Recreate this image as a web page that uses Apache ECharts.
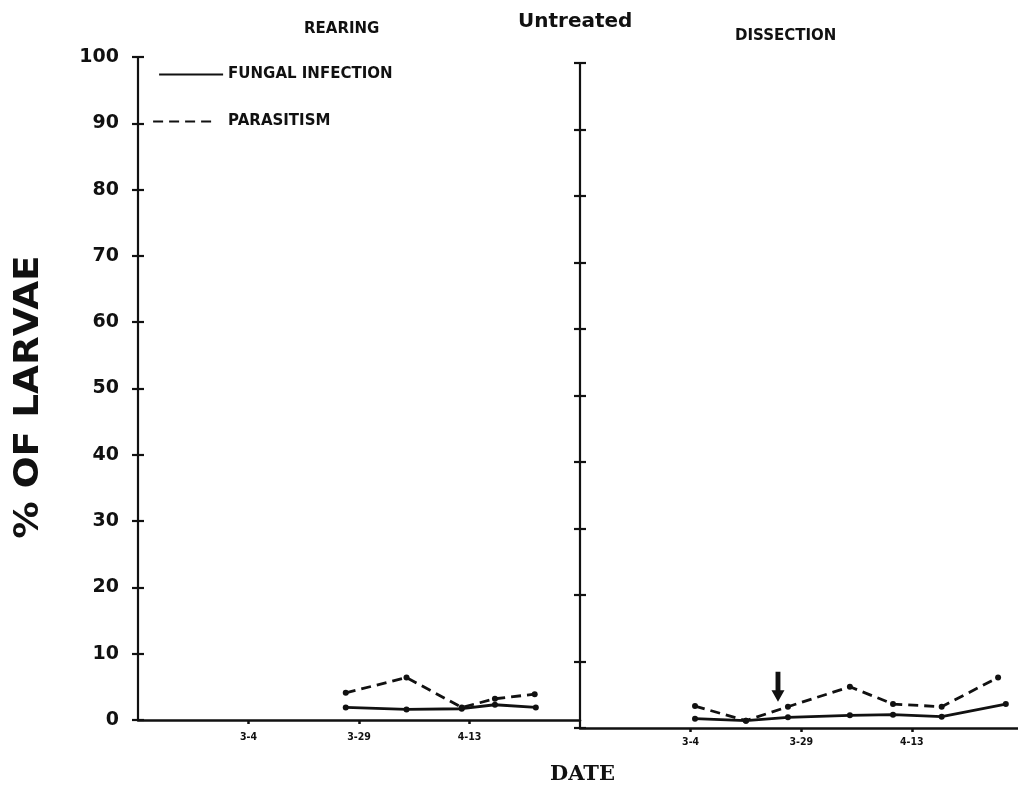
<!DOCTYPE html>
<html>
<head>
<meta charset="utf-8">
<title>Untreated - % of larvae</title>
<script src="https://cdn.jsdelivr.net/npm/echarts@6/dist/echarts.min.js"></script>
<style>
  html, body { margin: 0; padding: 0; background: #ffffff; }
  #chart { width: 1018px; height: 790px; }
</style>
</head>
<body>
<div id="chart"></div>
<script>
// Date axis: sampling positions are given in tick units (0 = 3-4, 1 = 3-29, 2 = 4-13)
const dateTicks = ['3-4', '3-29', '4-13'];
const dateTickPositions = [0, 1, 2];

// Rearing panel
const rearingFungalX = [0.88, 1.43, 1.93, 2.23, 2.60];
const rearingFungal = [1.9, 1.6, 1.7, 2.3, 1.9];
const rearingParasitismX = [0.88, 1.43, 1.93, 2.23, 2.59];
const rearingParasitism = [4.1, 6.4, 1.9, 3.2, 3.9];

// Dissection panel
const dissectionFungalX = [0.04, 0.50, 0.88, 1.44, 1.83, 2.27, 2.85];
const dissectionFungal = [1.4, 1.1, 1.6, 1.9, 2.0, 1.7, 3.6];
const dissectionParasitismX = [0.04, 0.50, 0.88, 1.44, 1.83, 2.27, 2.78];
const dissectionParasitism = [3.3, 1.1, 3.2, 6.2, 3.6, 3.2, 7.6];

// Arrow marking the start of sampling in the dissection panel
const arrowAt = [0.79, 6.2];

const INK = '#111111';
const pair = (xs, ys) => xs.map((x, i) => [x, ys[i]]);

const tickLabelFont = { fontFamily: 'DejaVu Sans', fontWeight: 'bold', color: INK };

function dateAxis(gridIndex, max, labelMargin) {
  return {
    gridIndex, type: 'value', min: -1, max, interval: 1,
    axisLine: { onZero: false, lineStyle: { color: INK, width: 2.6 } },
    splitLine: { show: false },
    axisTick: { customValues: dateTickPositions, length: 4, lineStyle: { color: INK, width: 2.5 } },
    axisLabel: {
      customValues: dateTickPositions,
      formatter: v => dateTicks[Math.round(v)] || '',
      fontFamily: 'DejaVu Sans Condensed', fontWeight: 'bold', fontSize: 10.5, color: INK, margin: labelMargin
    }
  };
}

function percentAxis(gridIndex, withLabels, inside) {
  return {
    gridIndex, type: 'value', min: 0, max: 100, interval: 10, position: 'left',
    axisLine: { show: !inside, onZero: false, lineStyle: { color: INK, width: 2.2 } },
    splitLine: { show: false },
    axisTick: { inside, length: 6, lineStyle: { color: INK, width: 2.2 } },
    axisLabel: withLabels
      ? Object.assign({ fontSize: 19, margin: 19 }, tickLabelFont)
      : { show: false }
  };
}

const fungalStyle = { color: INK, width: 2.8, type: 'solid' };
const parasitismStyle = { color: INK, width: 2.8, type: [10, 6] };

function lineSeries(name, xAxisIndex, yAxisIndex, data, lineStyle, extra) {
  return Object.assign({
    name, type: 'line', xAxisIndex, yAxisIndex, data,
    symbol: 'circle', symbolSize: 6, showSymbol: true,
    lineStyle, itemStyle: { color: INK }, emphasis: { disabled: true }
  }, extra || {});
}

const titleFont = { fontFamily: 'DejaVu Sans', fontWeight: 'bold', color: INK };
const legendBase = {
  orient: 'vertical', itemHeight: 14, itemGap: 0, padding: 0, selectedMode: false,
  itemStyle: { opacity: 0 },
  lineStyle: { width: 2.2 },
  textStyle: { fontFamily: 'DejaVu Sans', fontWeight: 'bold', fontSize: 15, color: INK }
};

const option = {
  animation: false,
  backgroundColor: '#ffffff',
  title: [
    { text: 'REARING', left: 304, top: 22, padding: 0, textStyle: Object.assign({ fontSize: 15 }, titleFont) },
    { text: 'Untreated', left: 518, top: 12, padding: 0, textStyle: Object.assign({ fontSize: 20 }, titleFont) },
    { text: 'DISSECTION', left: 735, top: 29, padding: 0, textStyle: Object.assign({ fontSize: 15 }, titleFont) },
    { text: 'DATE', left: 550, top: 764, padding: 0,
      textStyle: { fontFamily: 'DejaVu Serif', fontWeight: 'bold', fontSize: 21, color: INK } }
  ],
  legend: [
    Object.assign({}, legendBase, { data: ['FUNGAL INFECTION'], left: 158, top: 67, itemWidth: 64 }),
    Object.assign({}, legendBase, { data: ['PARASITISM'], left: 152, top: 114, itemWidth: 58,
      textStyle: Object.assign({}, legendBase.textStyle, { padding: [0, 0, 0, 12] }) })
  ],
  grid: [
    { left: 138, top: 57, width: 442, height: 663 },
    { left: 580, top: 63, width: 438, height: 665 }
  ],
  xAxis: [dateAxis(0, 3, 12), dateAxis(1, 2.96, 9)],
  yAxis: [
    percentAxis(0, true, false),
    percentAxis(0, false, true),
    percentAxis(1, false, false),
    percentAxis(1, false, true)
  ],
  graphic: [{
    type: 'text', x: 29, y: 397, rotation: Math.PI / 2, scaleX: 1.1,
    style: {
      text: '% OF LARVAE', font: 'bold 34px "DejaVu Sans"', fill: INK,
      textAlign: 'center', textVerticalAlign: 'middle'
    }
  }],
  series: [
    lineSeries('FUNGAL INFECTION', 0, 0, pair(rearingFungalX, rearingFungal), fungalStyle),
    lineSeries('PARASITISM', 0, 0, pair(rearingParasitismX, rearingParasitism), parasitismStyle),
    lineSeries('FUNGAL INFECTION', 1, 2, pair(dissectionFungalX, dissectionFungal), fungalStyle),
    lineSeries('PARASITISM', 1, 2, pair(dissectionParasitismX, dissectionParasitism), parasitismStyle, {
      markPoint: {
        silent: true,
        symbol: 'path://M3,0 L9,0 L9,19 L14,19 L6,31 L-2,19 L3,19 Z',
        symbolSize: [13, 30],
        itemStyle: { color: INK },
        label: { show: false },
        data: [{ coord: arrowAt }]
      }
    })
  ]
};

const chart = echarts.init(document.getElementById('chart'), null, { renderer: 'canvas' });
chart.setOption(option);
</script>
</body>
</html>
